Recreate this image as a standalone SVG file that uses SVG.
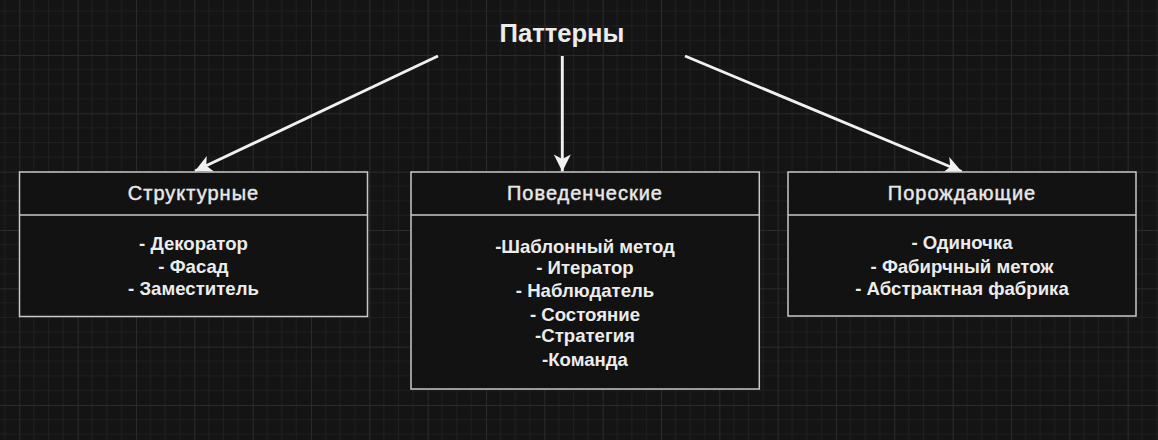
<svg xmlns="http://www.w3.org/2000/svg" width="1158" height="440" viewBox="0 0 1158 440">
<style>
.box{fill:#121212;stroke:#c8c8c8;stroke-width:1.5}
.hdr{font-family:"Liberation Sans",Arial,sans-serif;font-size:20px;letter-spacing:1px;fill:#e8e8e8;stroke:#e8e8e8;stroke-width:0.45;text-anchor:middle}
.body{font-family:"Liberation Sans",Arial,sans-serif;font-size:18.6px;font-weight:bold;fill:#ececec;text-anchor:middle}
.title{font-family:"Liberation Sans",Arial,sans-serif;font-size:25.6px;font-weight:bold;fill:#ececec;text-anchor:middle}
.edge{stroke:#f0f0f0;stroke-width:2.9;fill:none}
</style>
<defs>
<pattern id="grid" patternUnits="userSpaceOnUse" x="19.3" y="55" width="58.333" height="58.333">
<path d="M14.583 0V58.333M29.167 0V58.333M43.75 0V58.333M0 14.583H58.333M0 29.167H58.333M0 43.75H58.333" stroke="#1f1f1f" stroke-width="1" fill="none"/>
<path d="M0.5 0V58.333M0 0.5H58.333" stroke="#2b2b2b" stroke-width="1" fill="none"/>
</pattern>
<marker id="arr" markerUnits="userSpaceOnUse" markerWidth="20" markerHeight="20" viewBox="-18 -10 20 20" refX="0" refY="0" orient="auto">
<path d="M0 0L-17 -8.5L-12.5 0L-17 8.5Z" fill="#f0f0f0"/>
</marker>
</defs>
<rect width="1158" height="440" fill="#141414"/>
<rect width="1158" height="440" fill="url(#grid)"/>
<g id="title">
<text class="title" x="562" y="41.7">Паттерны</text>
</g>
<g id="connectors">
<line class="edge" x1="438" y1="56" x2="195" y2="171" marker-end="url(#arr)"/>
<line class="edge" x1="562.3" y1="56" x2="562.3" y2="171.5" marker-end="url(#arr)"/>
<line class="edge" x1="685" y1="56" x2="961.7" y2="171.5" marker-end="url(#arr)"/>
</g>
<g id="structural">
<rect class="box" x="19.5" y="172" width="348" height="144.5"/>
<line class="box" x1="19.5" y1="215" x2="367.5" y2="215"/>
<text class="hdr" x="193.5" y="200">Структурные</text>
<text class="body" x="193.5" y="249.5">- Декоратор</text>
<text class="body" x="193.5" y="272.5">- Фасад</text>
<text class="body" x="193.5" y="295">- Заместитель</text>
</g>
<g id="behavioral">
<rect class="box" x="411" y="172" width="348.3" height="217"/>
<line class="box" x1="411" y1="215" x2="759.3" y2="215"/>
<text class="hdr" x="585" y="200">Поведенческие</text>
<text class="body" x="585" y="253">-Шаблонный метод</text>
<text class="body" x="585" y="274.3">- Итератор</text>
<text class="body" x="585" y="296.7">- Наблюдатель</text>
<text class="body" x="585" y="320.5">- Состояние</text>
<text class="body" x="585" y="341.7">-Стратегия</text>
<text class="body" x="585" y="366">-Команда</text>
</g>
<g id="creational">
<rect class="box" x="788" y="172" width="348" height="144"/>
<line class="box" x1="788" y1="215" x2="1136" y2="215"/>
<text class="hdr" x="962" y="200">Порождающие</text>
<text class="body" x="962" y="249.3">- Одиночка</text>
<text class="body" x="962" y="272.7">- Фабирчный метож</text>
<text class="body" x="962" y="295">- Абстрактная фабрика</text>
</g>
</svg>
